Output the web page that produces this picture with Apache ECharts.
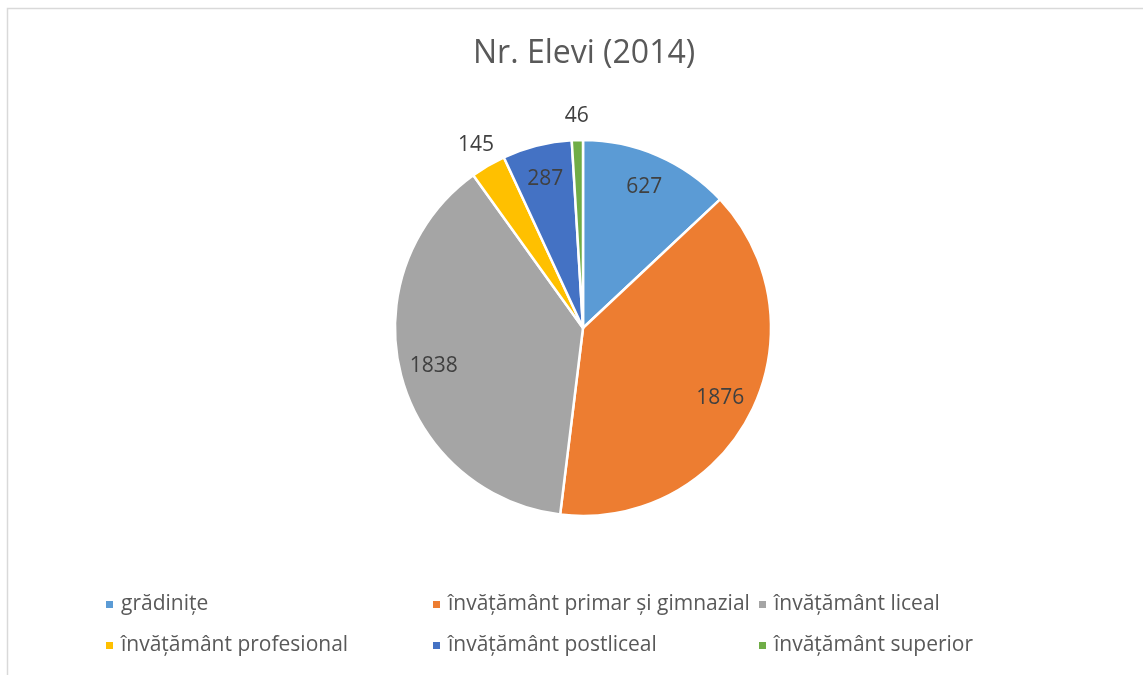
<!DOCTYPE html>
<html>
<head>
<meta charset="utf-8">
<script src="https://cdn.jsdelivr.net/npm/echarts@6/dist/echarts.min.js"></script>
<style>
    html, body { margin: 0; padding: 0; background: #fff; }
    #chart { width: 1143px; height: 675px; }
</style>
</head>
<body>
<div id="chart"></div>
<script>
const titleText = 'Nr. Elevi (2014)';
const categories = [
    'grădinițe',
    'învățământ primar și gimnazial',
    'învățământ liceal',
    'învățământ profesional',
    'învățământ postliceal',
    'învățământ superior'
];
const values = [627, 1876, 1838, 145, 287, 46];
const colors = ['#5B9BD5', '#ED7D31', '#A5A5A5', '#FFC000', '#4472C4', '#70AD47'];

const total = values.reduce((a, b) => a + b, 0);
// small slices get their label outside, like excel "best fit"
const isSmall = v => v / total < 0.04;

const chart = echarts.init(document.getElementById('chart'));

const center = [583, 328];
const R = 188;

const baseData = categories.map((name, i) => ({
    name: name,
    value: values[i],
    itemStyle: { color: colors[i] }
}));

function labelSeries(radius, showFn) {
    return {
        type: 'pie',
        center: center,
        radius: radius,
        silent: true,
        avoidLabelOverlap: false,
        emphasis: { disabled: true },
        itemStyle: { color: 'transparent', borderWidth: 0 },
        labelLine: { show: false },
        data: categories.map((name, i) => ({
            name: name,
            value: values[i],
            label: {
                show: showFn(values[i]),
                position: 'inside',
                formatter: '{c}',
                color: '#404040',
                fontSize: 21,
                fontFamily: 'Open Sans'
            }
        }))
    };
}

// legend columns (excel lays items out in a 3-column grid)
const legendCols = [[0, 3], [1, 4], [2, 5]];
const legendLeft = [99, 426, 752];

const option = {
    backgroundColor: '#fff',
    animation: false,
    color: colors,
    title: {
        text: titleText,
        left: 468,
        top: 33,
        textStyle: {
            color: '#595959',
            fontSize: 32,
            fontWeight: 'normal',
            fontFamily: 'Open Sans'
        }
    },
    graphic: [{
        type: 'rect',
        shape: { x: 7.5, y: 8.5, width: 1200, height: 700 },
        style: { fill: 'none', stroke: '#d9d9d9', lineWidth: 1.5 },
        silent: true
    }],
    legend: legendCols.map((col, k) => ({
        orient: 'vertical',
        left: legendLeft[k],
        top: 589,
        itemGap: 20,
        itemWidth: 9,
        itemHeight: 9,
        icon: 'rect',
        selectedMode: false,
        data: col.map(i => categories[i]),
        textStyle: {
            color: '#595959',
            fontSize: 21,
            fontFamily: 'Open Sans',
            padding: [0, 0, 0, 2]
        }
    })),
    series: [
        {
            type: 'pie',
            center: center,
            radius: [0, R],
            startAngle: 90,
            clockwise: true,
            silent: true,
            emphasis: { disabled: true },
            itemStyle: { borderColor: '#fff', borderWidth: 2.5 },
            label: { show: false },
            labelLine: { show: false },
            data: baseData
        },
        labelSeries([114, R], v => !isSmall(v)),
        labelSeries([R, 230], v => isSmall(v))
    ]
};

chart.setOption(option);
</script>
</body>
</html>
